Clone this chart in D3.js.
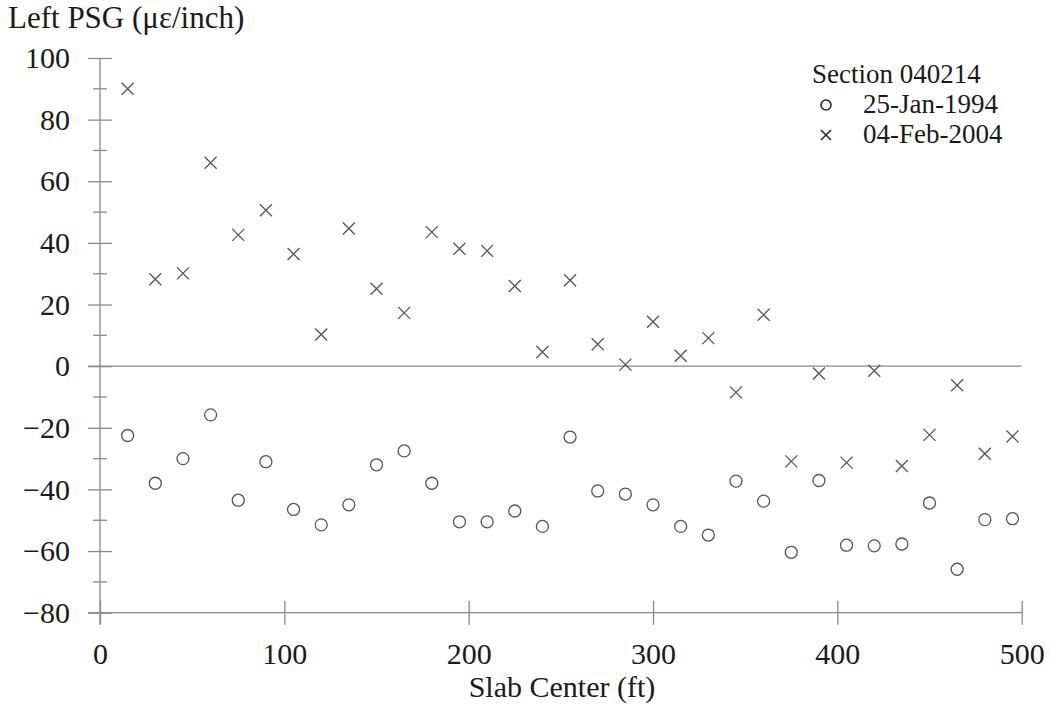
<!DOCTYPE html>
<html>
<head>
<meta charset="utf-8">
<script src="https://cdn.jsdelivr.net/npm/d3@7"></script>
<style>
  body { margin: 0; background: #fff; }
  text { font-family: "Liberation Serif", "Times New Roman", serif; fill: #1a1a1a; }
</style>
</head>
<body>
<div id="chart"></div>
<script>
var slabCenter = [15, 30, 45, 60, 75, 90, 105, 120, 135, 150, 165, 180, 195, 210, 225, 240, 255,
                  270, 285, 300, 315, 330, 345, 360, 375, 390, 405, 420, 435, 450, 465, 480, 495];
var jan1994 = [-22.5, -38, -30, -15.8, -43.5, -31, -46.5, -51.5, -45, -32, -27.5, -38, -50.5, -50.5, -47, -52, -23,
               -40.5, -41.5, -45, -52, -54.8, -37.3, -43.8, -60.4, -37.1, -58.1, -58.3, -57.7, -44.4, -65.9, -49.8, -49.5];
var feb2004 = [90, 28.2, 30.1, 66, 42.6, 50.6, 36.4, 10.3, 44.7, 25.1, 17.3, 43.5, 38.1, 37.4, 26, 4.6, 27.9,
               7.1, 0.5, 14.4, 3.4, 9.1, -8.5, 16.7, -30.9, -2.4, -31.3, -1.5, -32.4, -22.3, -6.2, -28.4, -22.8];
var xTicks = [0, 100, 200, 300, 400, 500];
var yTicks = [-80, -60, -40, -20, 0, 20, 40, 60, 80, 100];
var yMinor = [-70, -50, -30, -10, 10, 30, 50, 70, 90];
var legendTitle = "Section 040214";
var seriesNames = ["25-Jan-1994", "04-Feb-2004"];

var width = 1050, height = 708;
var axisColor = "#8a8a8a", markColor = "#555";

var svg = d3.select("#chart").append("svg")
    .attr("width", width).attr("height", height);

var x = d3.scaleLinear().domain([0, 500]).range([100, 1021.7]);
var y = d3.scaleLinear().domain([-80, 100]).range([612.7, 58]);

// y axis
var yAxis = svg.append("g").attr("transform", "translate(" + x(0) + ",0)")
    .call(d3.axisLeft(y).tickValues(yTicks).tickSize(12).tickPadding(18)
        .tickSizeOuter(0).tickFormat(function (d) { return d < 0 ? "\u2212" + Math.abs(d) : d; }));
yAxis.select(".domain").remove();
yAxis.selectAll(".tick line").attr("x1", -12).attr("x2", 12).attr("stroke", axisColor).attr("stroke-width", 1.3);
yAxis.selectAll(".tick text").attr("font-size", 30).attr("font-family", "Liberation Serif").attr("fill", "#1a1a1a");
yAxis.append("line").attr("y1", y(100)).attr("y2", y(-80) + 12)
    .attr("stroke", axisColor).attr("stroke-width", 1.3);
yAxis.selectAll(".minor").data(yMinor).enter().append("line")
    .attr("x1", -7).attr("x2", 7)
    .attr("y1", function (d) { return y(d); }).attr("y2", function (d) { return y(d); })
    .attr("stroke", axisColor).attr("stroke-width", 1.3);

// x axis
var xAxis = svg.append("g").attr("transform", "translate(0," + y(-80) + ")")
    .call(d3.axisBottom(x).tickValues(xTicks).tickSize(12).tickPadding(18).tickSizeOuter(0));
xAxis.select(".domain").remove();
xAxis.selectAll(".tick line").attr("y1", -12).attr("y2", 12).attr("stroke", axisColor).attr("stroke-width", 1.3);
xAxis.selectAll(".tick text").attr("font-size", 30).attr("font-family", "Liberation Serif").attr("fill", "#1a1a1a");
xAxis.append("line").attr("x1", x(0) - 12).attr("x2", x(500))
    .attr("stroke", axisColor).attr("stroke-width", 1.3);

// zero line
svg.append("line").attr("x1", x(0) - 12).attr("x2", x(500))
    .attr("y1", y(0)).attr("y2", y(0))
    .attr("stroke", axisColor).attr("stroke-width", 1.3);

// titles
svg.append("text").attr("x", 8).attr("y", 28).attr("font-size", 31).text("Left PSG (\u03bc\u03b5/inch)");
svg.append("text").attr("x", 562).attr("y", 697).attr("text-anchor", "middle")
    .attr("font-size", 30).text("Slab Center (ft)");

// markers
var xPath = function (r) { return "M" + -r + "," + -r + "L" + r + "," + r + "M" + -r + "," + r + "L" + r + "," + -r; };

svg.append("g").selectAll("circle").data(slabCenter).enter().append("circle")
    .attr("cx", function (d) { return x(d); })
    .attr("cy", function (d, i) { return y(jan1994[i]); })
    .attr("r", 6).attr("fill", "none").attr("stroke", markColor).attr("stroke-width", 1.3);

svg.append("g").selectAll("path").data(slabCenter).enter().append("path")
    .attr("transform", function (d, i) { return "translate(" + x(d) + "," + y(feb2004[i]) + ")"; })
    .attr("d", xPath(6)).attr("fill", "none").attr("stroke", markColor).attr("stroke-width", 1.3);

// legend
var legend = svg.append("g");
legend.append("text").attr("x", 812).attr("y", 83).attr("font-size", 27).text(legendTitle);
legend.append("circle").attr("cx", 826).attr("cy", 105).attr("r", 5)
    .attr("fill", "none").attr("stroke", "#222").attr("stroke-width", 1.5);
legend.append("path").attr("transform", "translate(826,135)").attr("d", xPath(5))
    .attr("fill", "none").attr("stroke", "#222").attr("stroke-width", 1.5);
legend.selectAll(".lbl").data(seriesNames).enter().append("text")
    .attr("x", 863).attr("y", function (d, i) { return 113 + i * 30; })
    .attr("font-size", 27).text(function (d) { return d; });
</script>
</body>
</html>
